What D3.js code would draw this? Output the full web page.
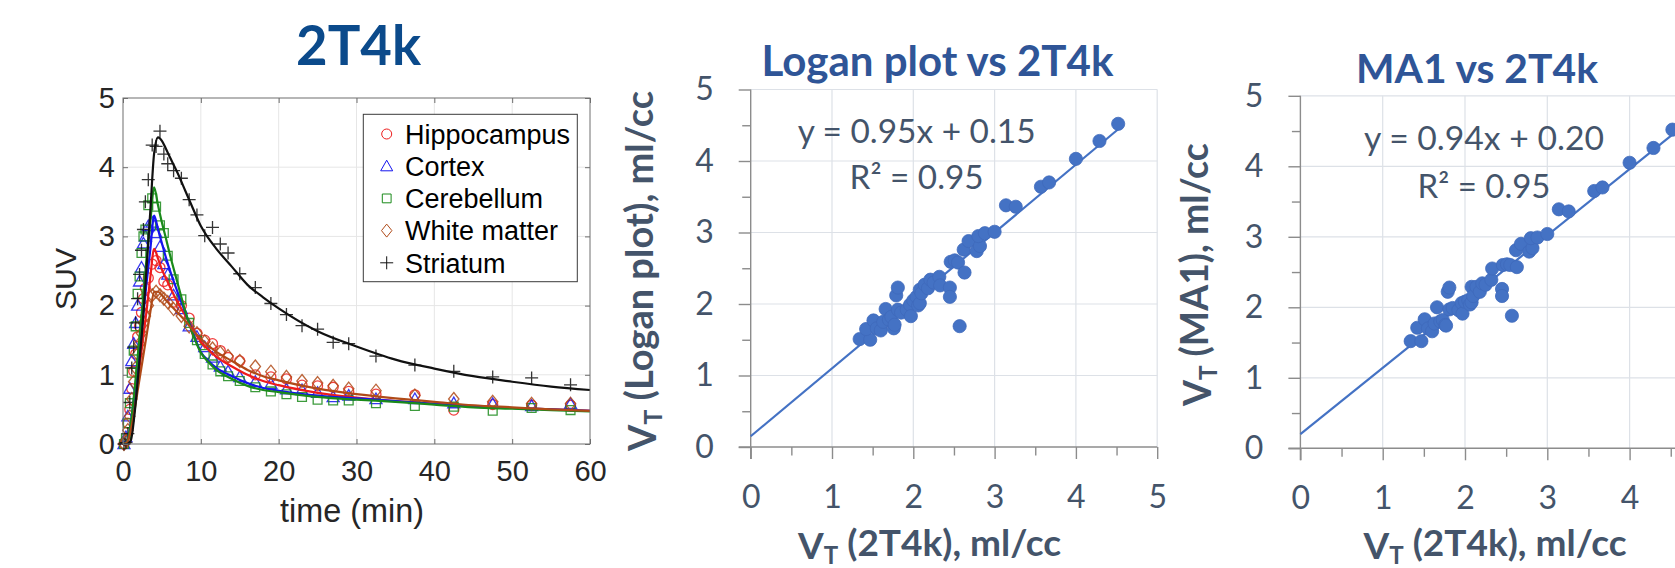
<!DOCTYPE html>
<html>
<head>
<meta charset="utf-8">
<script src="https://cdn.jsdelivr.net/npm/d3@7"></script>
<style>
  body { margin: 0; background: #fff; }
  svg { display: block; }
</style>
</head>
<body>
<script>
// ---- time activity curves (SUV vs time) ----
const frameTimes = [0.125, 0.375, 0.625, 0.875, 1.125, 1.375, 1.625, 1.875, 2.125, 2.375, 2.625, 2.875,
                    3.25, 3.75, 4.25, 4.75, 5.25, 5.75, 6.5, 7.5, 8.5, 9.5, 10.5, 11.5, 12.5, 13.5,
                    15, 17, 19, 21, 23, 25, 27, 29, 32.5, 37.5, 42.5, 47.5, 52.5, 57.5];

const hippocampus = [0, 0.05, 0.3, 0.5, 0.8, 1.05, 1.3, 1.55, 1.7, 1.9, 2.1, 2.25,
                     2.4, 2.6, 2.65, 2.55, 2.35, 2.3, 2.05, 2.0, 1.82, 1.6, 1.5, 1.45, 1.35, 1.25,
                     1.2, 1.0, 0.97, 0.94, 0.85, 0.84, 0.82, 0.76, 0.72, 0.71, 0.49, 0.57, 0.56, 0.56];
const cortex      = [0, 0.1, 0.4, 0.8, 1.2, 1.45, 1.75, 2.0, 2.35, 2.55, 2.9, 3.0,
                     3.15, 3.2, 3.05, 2.85, 2.6, 2.45, 2.15, 1.95, 1.7, 1.55, 1.4, 1.25, 1.12, 1.05,
                     0.97, 0.9, 0.87, 0.79, 0.78, 0.74, 0.68, 0.7, 0.65, 0.65, 0.59, 0.58, 0.55, 0.58];
const cerebellum  = [0, 0.08, 0.3, 0.59, 1.03, 1.35, 1.7, 2.17, 2.42, 2.76, 3.0, 3.1,
                     3.45, 3.55, 3.43, 3.16, 3.05, 2.72, 2.38, 2.09, 1.75, 1.5, 1.3, 1.15, 1.05, 0.98,
                     0.91, 0.82, 0.76, 0.72, 0.68, 0.64, 0.63, 0.63, 0.59, 0.55, 0.54, 0.48, 0.52, 0.49];
const whiteMatter = [0, 0.05, 0.2, 0.4, 0.65, 0.9, 1.1, 1.3, 1.45, 1.6, 1.75, 1.85,
                     2.0, 2.15, 2.2, 2.15, 2.1, 2.05, 1.95, 1.85, 1.7, 1.6, 1.48, 1.38, 1.32, 1.27,
                     1.2, 1.12, 1.045, 0.97, 0.91, 0.88, 0.84, 0.8, 0.77, 0.7, 0.65, 0.61, 0.58, 0.58];
const striatum    = [0, 0.02, 0.15, 0.6, 1.1, 1.4, 1.75, 2.1, 2.45, 2.8, 3.1, 3.5,
                     3.82, 4.32, 4.3, 4.52, 4.19, 4.05, 3.95, 3.84, 3.53, 3.31, 3.01, 3.13, 2.89, 2.76,
                     2.46, 2.26, 2.03, 1.87, 1.71, 1.66, 1.47, 1.45, 1.27, 1.14, 1.05, 0.97, 0.955, 0.855];

// model fits (2T4k)
const fitTimes = [0, 0.5, 1, 1.5, 2, 2.5, 3, 3.5, 4, 4.5, 5, 5.5, 6, 7, 8, 9, 10, 11, 12, 14, 16, 18, 20,
                  25, 30, 35, 40, 45, 50, 55, 60];
const fitHippocampus = [0, 0.02, 0.25, 0.6, 1.0, 1.45, 1.9, 2.4, 2.82, 2.68, 2.52, 2.4, 2.28, 2.05, 1.86, 1.66,
                        1.48, 1.36, 1.26, 1.12, 1.0, 0.91, 0.85, 0.74, 0.67, 0.62, 0.58, 0.55, 0.52, 0.5, 0.48];
const fitCortex      = [0, 0.03, 0.3, 0.75, 1.25, 1.75, 2.3, 2.8, 3.3, 3.1, 2.9, 2.7, 2.52, 2.2, 1.9, 1.6,
                        1.33, 1.2, 1.1, 0.98, 0.88, 0.81, 0.77, 0.7, 0.66, 0.62, 0.58, 0.54, 0.52, 0.5, 0.48];
const fitCerebellum  = [0, 0.03, 0.3, 0.8, 1.4, 2.0, 2.65, 3.2, 3.71, 3.45, 3.2, 2.98, 2.75, 2.33, 1.92, 1.58,
                        1.32, 1.18, 1.07, 0.94, 0.84, 0.78, 0.75, 0.68, 0.64, 0.61, 0.57, 0.53, 0.51, 0.49, 0.47];
const fitWhiteMatter = [0, 0.02, 0.2, 0.5, 0.85, 1.2, 1.55, 1.9, 2.2, 2.2, 2.15, 2.08, 2.02, 1.9, 1.78, 1.64,
                        1.52, 1.42, 1.33, 1.2, 1.07, 0.98, 0.92, 0.8, 0.72, 0.66, 0.61, 0.56, 0.53, 0.5, 0.48];
const fitStriatum    = [0, 0, 0.05, 0.45, 1.05, 1.7, 2.5, 3.35, 4.2, 4.43, 4.38, 4.27, 4.15, 3.92, 3.66, 3.4,
                        3.15, 2.97, 2.82, 2.56, 2.3, 2.12, 1.96, 1.63, 1.41, 1.22, 1.09, 0.98, 0.9, 0.83, 0.78];

const timeTicks = [0, 10, 20, 30, 40, 50, 60];
const suvTicks = [0, 1, 2, 3, 4, 5];

// ---- VT comparison (ml/cc) ----
const vt2T4k = [1.34, 1.47, 1.42, 1.51, 1.55, 1.60, 1.63, 1.66, 1.70, 1.73, 1.76, 1.77, 1.79, 1.81, 1.81,
                1.85, 1.92, 1.96, 1.97, 2.00, 2.04, 2.06, 2.08, 2.08, 2.10, 2.14, 2.18, 2.21, 2.25, 2.32,
                2.33, 2.45, 2.45, 2.46, 2.51, 2.55, 2.57, 2.63, 2.62, 2.68, 2.78, 2.82, 2.80, 2.88, 3.00,
                3.14, 3.26, 3.57, 3.67, 4.00, 4.29, 4.52];
const vtLogan = [1.51, 1.50, 1.65, 1.77, 1.66, 1.63, 1.75, 1.93, 1.78, 1.82, 1.66, 1.71, 2.12, 2.23, 1.92,
                 1.88, 1.92, 1.99, 1.83, 2.05, 2.10, 1.98, 2.01, 2.20, 2.15, 2.27, 2.22, 2.34, 2.30, 2.38,
                 2.26, 2.23, 2.10, 2.59, 2.61, 2.58, 1.69, 2.44, 2.76, 2.88, 2.74, 2.81, 2.95, 2.99, 3.01,
                 3.38, 3.36, 3.64, 3.70, 4.03, 4.28, 4.52];
const vtMA1   = [1.52, 1.52, 1.71, 1.83, 1.70, 1.66, 1.77, 2.00, 1.80, 1.82, 1.75, 1.74, 2.22, 2.28, 1.97,
                 1.99, 1.96, 2.06, 1.91, 2.08, 2.10, 2.04, 2.07, 2.29, 2.16, 2.29, 2.22, 2.34, 2.32, 2.39,
                 2.55, 2.26, 2.16, 2.60, 2.61, 2.60, 1.88, 2.57, 2.81, 2.90, 2.79, 2.84, 2.98, 2.99, 3.04,
                 3.39, 3.36, 3.65, 3.70, 4.05, 4.26, 4.52];
const loganTrend = [0.95, 0.15];   // slope, intercept
const ma1Trend = [0.94, 0.20];
const loganR2 = 0.95;
const ma1R2 = 0.95;
const vtTicks = [0, 1, 2, 3, 4, 5];
const vtMinorTicks = [0.5, 1.5, 2.5, 3.5, 4.5];

const W = 1675, H = 568;
const EXCEL_FONT = 'Lato, "Open Sans", sans-serif';
const MATLAB_FONT = '"Liberation Sans", Arial, sans-serif';

const svg = d3.select('body').append('svg')
              .attr('width', W)
              .attr('height', H);

// scale a text's font size so that it spans the given width
function fitWidth(sel, width) {
  let len = sel.node().getComputedTextLength();
  let fs = parseFloat(sel.attr('font-size'));
  sel.attr('font-size', fs * width / len);
}

// MATLAB-like marker shapes
const markCircle = { draw(ctx) { ctx.moveTo(5, 0); ctx.arc(0, 0, 5, 0, 2 * Math.PI); } };
const markTriangle = { draw(ctx) { ctx.moveTo(0, -6); ctx.lineTo(6, 4.6); ctx.lineTo(-6, 4.6); ctx.closePath(); } };
const markSquare = { draw(ctx) { ctx.rect(-4.4, -4.4, 8.8, 8.8); } };
const markDiamond = { draw(ctx) { ctx.moveTo(0, -6.5); ctx.lineTo(5.2, 0); ctx.lineTo(0, 6.5); ctx.lineTo(-5.2, 0); ctx.closePath(); } };
const markPlus = { draw(ctx) { ctx.moveTo(-6.5, 0); ctx.lineTo(6.5, 0); ctx.moveTo(0, -6.5); ctx.lineTo(0, 6.5); } };

drawTac();
drawScatter({
  title: 'Logan plot vs 2T4k', ylab: ' (Logan plot), ml/cc', ys: vtLogan, trend: loganTrend, r2: loganR2,
  x0: 750.7, x1: 1157.2, y0: 447, y1: 89.5,
  titlePos: [937.5, 76, 352], ylabPos: [656, 271, 360], xlabPos: [929.6, 559, 263],
  eqPos: [916.6, 143, 189, 238, 134]
});
drawScatter({
  title: 'MA1 vs 2T4k', ylab: ' (MA1), ml/cc', ys: vtMA1, trend: ma1Trend, r2: ma1R2,
  x0: 1300.4, x1: 1711.9, y0: 448.3, y1: 95.8,
  titlePos: [1477, 82.6, 242], ylabPos: [1211, 274.6, 263], xlabPos: [1495, 559, 263],
  eqPos: [1484, 150, 197.5, 240, 133]
});

function drawTac() {
  let x = d3.scaleLinear().domain([0, 60]).range([123, 590]);
  let y = d3.scaleLinear().domain([0, 5]).range([444, 98]);
  let g = svg.append('g');

  // grid
  g.append('g').selectAll('line').data(timeTicks.slice(1, -1)).join('line')
   .attr('x1', d => x(d)).attr('x2', d => x(d)).attr('y1', y(0)).attr('y2', y(5))
   .attr('stroke', '#e6e6e6').attr('stroke-width', 1);
  g.append('g').selectAll('line').data(suvTicks.slice(1, -1)).join('line')
   .attr('x1', x(0)).attr('x2', x(60)).attr('y1', d => y(d)).attr('y2', d => y(d))
   .attr('stroke', '#e6e6e6').attr('stroke-width', 1);

  let series = [
    { name: 'Hippocampus', v: hippocampus, fit: fitHippocampus, color: '#ee1c1c', mark: markCircle },
    { name: 'Cortex', v: cortex, fit: fitCortex, color: '#1414ee', mark: markTriangle },
    { name: 'Cerebellum', v: cerebellum, fit: fitCerebellum, color: '#1a8a1a', mark: markSquare },
    { name: 'White matter', v: whiteMatter, fit: fitWhiteMatter, color: '#b04a18', mark: markDiamond },
    { name: 'Striatum', v: striatum, fit: fitStriatum, color: '#111111', mark: markPlus }
  ];

  let sym = d3.symbol();
  series.forEach(s => {
    g.append('g').selectAll('path').data(s.v).join('path')
     .attr('transform', (d, i) => 'translate(' + x(frameTimes[i]) + ',' + y(d) + ')')
     .attr('d', sym.type(s.mark)())
     .attr('fill', 'none')
     .attr('stroke', s.color)
     .attr('stroke-opacity', 0.85)
     .attr('stroke-width', 1.3);
  });

  let line = d3.line()
               .x((d, i) => x(fitTimes[i]))
               .y(d => y(d))
               .curve(d3.curveMonotoneX);
  series.forEach(s => {
    g.append('path').datum(s.fit)
     .attr('d', line)
     .attr('fill', 'none')
     .attr('stroke', s.color)
     .attr('stroke-width', 2.2);
  });

  // box with inward ticks
  g.append('rect')
   .attr('x', x(0)).attr('y', y(5)).attr('width', x(60) - x(0)).attr('height', y(0) - y(5))
   .attr('fill', 'none').attr('stroke', '#6e6e6e').attr('stroke-width', 1);

  let fmt = d3.format('d');
  g.append('g').attr('transform', 'translate(0,' + y(0) + ')')
   .call(d3.axisBottom(x).tickValues(timeTicks).tickFormat(fmt).tickSize(-5).tickPadding(16));
  g.append('g').attr('transform', 'translate(0,' + y(5) + ')')
   .call(d3.axisTop(x).tickValues(timeTicks).tickSize(-5).tickFormat(''));
  g.append('g').attr('transform', 'translate(' + x(0) + ',0)')
   .call(d3.axisLeft(y).tickValues(suvTicks).tickFormat(fmt).tickSize(-5).tickPadding(8));
  g.append('g').attr('transform', 'translate(' + x(60) + ',0)')
   .call(d3.axisRight(y).tickValues(suvTicks).tickSize(-5).tickFormat(''));
  g.selectAll('.domain').remove();
  g.selectAll('.tick line').attr('stroke', '#6e6e6e');
  g.selectAll('.tick text').attr('font-family', MATLAB_FONT).attr('font-size', 29).attr('fill', '#262626');

  let tl = g.append('text').attr('x', 352).attr('y', 521.7).attr('text-anchor', 'middle')
            .attr('font-family', MATLAB_FONT).attr('font-size', 30).attr('fill', '#262626')
            .text('time (min)');
  fitWidth(tl, 144);
  let sl = g.append('text').attr('transform', 'translate(76,279) rotate(-90)').attr('text-anchor', 'middle')
            .attr('font-family', MATLAB_FONT).attr('font-size', 30).attr('fill', '#262626')
            .text('SUV');
  fitWidth(sl, 62);

  let tt = svg.append('text').attr('x', 358.6).attr('y', 64.5).attr('text-anchor', 'middle')
              .attr('font-family', EXCEL_FONT).attr('font-weight', 'bold').attr('font-size', 50)
              .attr('fill', '#0b4a8b').text('2T4k');
  fitWidth(tt, 125);

  // legend
  let lg = g.append('g');
  lg.append('rect').attr('x', 363.3).attr('y', 114.3).attr('width', 214).attr('height', 167.4)
    .attr('fill', '#fff').attr('stroke', '#3a3a3a').attr('stroke-width', 1);
  series.forEach((s, i) => {
    let ry = 134 + i * 32.2;
    lg.append('path').attr('transform', 'translate(386.7,' + ry + ')')
      .attr('d', sym.type(s.mark)()).attr('fill', 'none').attr('stroke', s.color).attr('stroke-width', 1);
    lg.append('text').attr('x', 405).attr('y', ry + 9.8)
      .attr('font-family', MATLAB_FONT).attr('font-size', 27).attr('fill', '#000').text(s.name);
  });
}

function drawScatter(o) {
  let x = d3.scaleLinear().domain([0, 5]).range([o.x0, o.x1]);
  let y = d3.scaleLinear().domain([0, 5]).range([o.y0, o.y1]);
  let g = svg.append('g');
  let textColor = '#44546a';
  let fmt = d3.format('d');

  // grid
  g.append('g').selectAll('line').data(vtTicks.slice(1)).join('line')
   .attr('x1', d => x(d)).attr('x2', d => x(d)).attr('y1', y(0)).attr('y2', y(5))
   .attr('stroke', '#dde1e7').attr('stroke-width', 1.2);
  g.append('g').selectAll('line').data(vtTicks.slice(1)).join('line')
   .attr('x1', x(0)).attr('x2', x(5)).attr('y1', d => y(d)).attr('y2', d => y(d))
   .attr('stroke', '#dde1e7').attr('stroke-width', 1.2);

  // axes (x labels that fall past the page edge are left out)
  let fs = 32;
  let xLabelTicks = vtTicks.filter(d => x(d) < W - 10);
  g.append('g').attr('transform', 'translate(0,' + y(0) + ')')
   .call(d3.axisBottom(x).tickValues(xLabelTicks).tickFormat(fmt).tickSize(12).tickPadding(26));
  g.append('g').attr('transform', 'translate(0,' + y(0) + ')')
   .call(d3.axisBottom(x).tickValues(vtMinorTicks).tickSize(8.5).tickFormat(''));
  g.append('g').attr('transform', 'translate(' + x(0) + ',0)')
   .call(d3.axisLeft(y).tickValues(vtTicks).tickFormat(fmt).tickSize(12).tickPadding(25));
  g.append('g').attr('transform', 'translate(' + x(0) + ',0)')
   .call(d3.axisLeft(y).tickValues(vtMinorTicks).tickSize(8.5).tickFormat(''));
  g.selectAll('.domain').remove();
  g.selectAll('.tick line').attr('stroke', '#8c8c8c').attr('stroke-width', 1.4);
  g.selectAll('.tick text').attr('font-family', EXCEL_FONT).attr('font-size', fs).attr('fill', textColor);
  g.append('line').attr('x1', x(0) - 12).attr('x2', x(5)).attr('y1', y(0)).attr('y2', y(0))
   .attr('stroke', '#8c8c8c').attr('stroke-width', 1.4);
  g.append('line').attr('x1', x(0)).attr('x2', x(0)).attr('y1', y(0) + 12).attr('y2', y(5))
   .attr('stroke', '#8c8c8c').attr('stroke-width', 1.4);

  // trendline and points
  let xmax = d3.max(vt2T4k);
  g.append('line')
   .attr('x1', x(0)).attr('y1', y(o.trend[1]))
   .attr('x2', x(xmax)).attr('y2', y(o.trend[0] * xmax + o.trend[1]))
   .attr('stroke', '#4472c4').attr('stroke-width', 2.2);
  g.append('g').selectAll('circle').data(o.ys).join('circle')
   .attr('cx', (d, i) => x(vt2T4k[i]))
   .attr('cy', d => y(d))
   .attr('r', 6.6)
   .attr('fill', '#4472c4')
   .attr('stroke', '#3f6abb')
   .attr('stroke-width', 0.8);

  // equation
  let eq = g.append('text').attr('x', o.eqPos[0]).attr('y', o.eqPos[1]).attr('text-anchor', 'middle')
            .attr('font-family', EXCEL_FONT).attr('font-size', fs).attr('fill', textColor)
            .text('y = ' + o.trend[0].toFixed(2) + 'x + ' + o.trend[1].toFixed(2));
  fitWidth(eq, o.eqPos[3]);
  let r2 = g.append('text').attr('x', o.eqPos[0]).attr('y', o.eqPos[2]).attr('text-anchor', 'middle')
            .attr('font-family', EXCEL_FONT).attr('font-size', fs).attr('fill', textColor)
            .text('R² = ' + o.r2.toFixed(2));
  fitWidth(r2, o.eqPos[4]);

  // titles
  let t = g.append('text').attr('x', o.titlePos[0]).attr('y', o.titlePos[1]).attr('text-anchor', 'middle')
           .attr('font-family', EXCEL_FONT).attr('font-weight', 'bold').attr('font-size', 38)
           .attr('fill', '#2f5597').text(o.title);
  fitWidth(t, o.titlePos[2]);

  let yl = g.append('text')
            .attr('transform', 'translate(' + o.ylabPos[0] + ',' + o.ylabPos[1] + ') rotate(-90)')
            .attr('text-anchor', 'middle')
            .attr('font-family', EXCEL_FONT).attr('font-weight', 'bold').attr('font-size', 34)
            .attr('fill', textColor);
  yl.append('tspan').text('V');
  yl.append('tspan').attr('dy', '0.25em').style('font-size', '65%').text('T');
  yl.append('tspan').attr('dy', '-0.25em').text(o.ylab);
  fitWidth(yl, o.ylabPos[2]);

  let xl = g.append('text').attr('x', o.xlabPos[0]).attr('y', o.xlabPos[1]).attr('text-anchor', 'middle')
            .attr('font-family', EXCEL_FONT).attr('font-weight', 'bold').attr('font-size', 32)
            .attr('fill', textColor);
  xl.append('tspan').text('V');
  xl.append('tspan').attr('dy', '0.2em').style('font-size', '65%').text('T');
  xl.append('tspan').attr('dy', '-0.2em').text(' (2T4k), ml/cc');
  fitWidth(xl, o.xlabPos[2]);
}
</script>
</body>
</html>
